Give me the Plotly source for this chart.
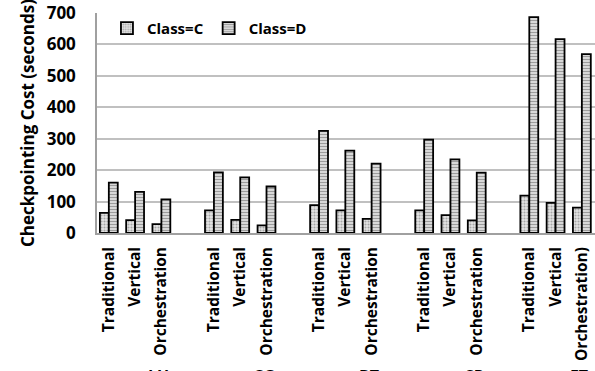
import plotly.graph_objects as go

groups = ["LU", "CG", "BT", "SP", "FT"]
methods = ["Traditional", "Vertical", "Orchestration"]
last_labels = ["Traditional", "Vertical", "Orchestration)"]
class_c = [64, 41, 28, 72, 42, 24, 89, 72, 45, 72, 57, 40, 119, 96, 81]
class_d = [160, 131, 107, 193, 177, 148, 325, 262, 221, 297, 234, 192, 687, 617, 569]

xpos = []
labels = []
for g in range(len(groups)):
    for m in range(len(methods)):
        xpos.append(g * 4 + m)
        labels.append(last_labels[m] if g == len(groups) - 1 else methods[m])

FONT = "Open Sans"
fig = go.Figure()
fig.add_trace(go.Bar(
    x=xpos, y=class_c, name="Class=C", offset=-0.34, width=0.34,
    marker=dict(color="#d9d9d9", line=dict(color="black", width=1.8),
                pattern=dict(shape=".", fgcolor="#666666", bgcolor="#e6e6e6", size=3, solidity=0.4)),
))
fig.add_trace(go.Bar(
    x=xpos, y=class_d, name="Class=D", offset=0.0, width=0.34,
    marker=dict(color="#d9d9d9", line=dict(color="black", width=1.8),
                pattern=dict(shape="-", fgcolor="#3a3a3a", bgcolor="#ffffff", size=3, solidity=0.6)),
))

for g, name in enumerate(groups):
    fig.add_annotation(x=g * 4 + 1.9, y=-0.59, xref="x", yref="paper", text=name,
                       showarrow=False, yanchor="top",
                       font=dict(family=FONT, size=16, color="black", weight="bold"))

fig.update_layout(
    width=595, height=371,
    margin=dict(l=97, r=0, t=13, b=138),
    plot_bgcolor="white", paper_bgcolor="white",
    barmode="overlay",
    showlegend=True,
    legend=dict(orientation="h", x=0.02, y=0.93, xanchor="left", yanchor="middle",
                font=dict(family=FONT, size=15, color="black", weight="bold"),
                bgcolor="rgba(0,0,0,0)", itemwidth=30, tracegroupgap=0),
    xaxis=dict(range=[-0.45, 18.5], tickmode="array", tickvals=xpos, ticktext=labels,
               tickangle=-90, showgrid=False, showline=True, linecolor="#a0a0a0", linewidth=1.5,
               ticks="", ticklabelstandoff=6,
               tickfont=dict(family=FONT, size=15.5, color="black", weight="bold"),
               zeroline=False),
    yaxis=dict(range=[0, 700], dtick=100, showgrid=True, gridcolor="#c0c0c0", gridwidth=1.5,
               showline=True, linecolor="#a0a0a0", linewidth=1.5, zeroline=False,
               ticks="", ticklabelstandoff=16,
               tickfont=dict(family=FONT, size=17, color="black", weight="bold"),
               title=dict(text="Checkpointing Cost (seconds)", standoff=8,
                          font=dict(family=FONT, size=17, color="black", weight="bold"))),
)

fig.write_html("out.html")
